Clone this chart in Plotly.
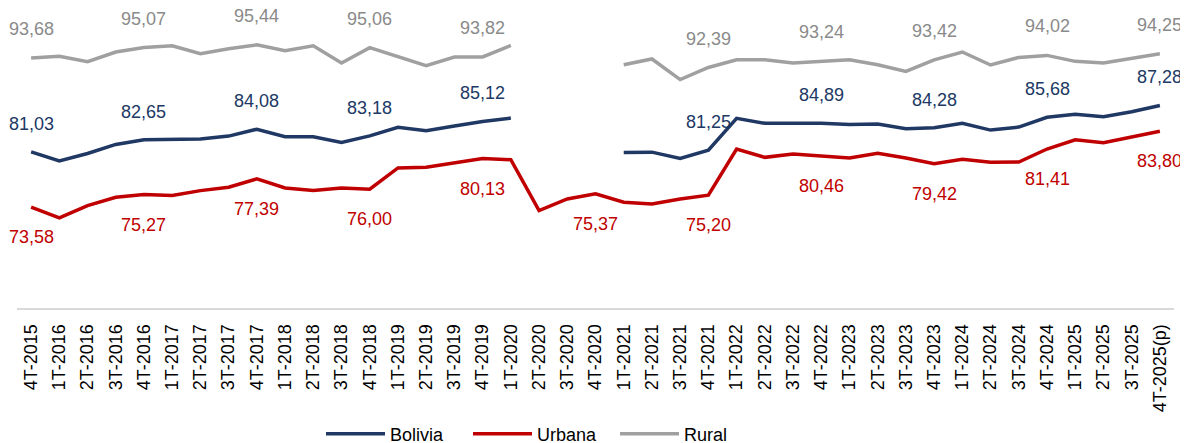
import plotly.graph_objects as go

categories = ["4T-2015","1T-2016","2T-2016","3T-2016","4T-2016","1T-2017","2T-2017","3T-2017","4T-2017",
              "1T-2018","2T-2018","3T-2018","4T-2018","1T-2019","2T-2019","3T-2019","4T-2019",
              "1T-2020","2T-2020","3T-2020","4T-2020","1T-2021","2T-2021","3T-2021","4T-2021",
              "1T-2022","2T-2022","3T-2022","4T-2022","1T-2023","2T-2023","3T-2023","4T-2023",
              "1T-2024","2T-2024","3T-2024","4T-2024","1T-2025","2T-2025","3T-2025","4T-2025(p)"]

bolivia = [81.03, 79.81, 80.81, 82.03, 82.65, 82.71, 82.75, 83.15, 84.08, 83.06, 83.06, 82.30, 83.18,
           84.33, 83.87, 84.50, 85.12, 85.58, None, None, None, 80.95, 80.99, 80.14, 81.25,
           85.54, 84.87, 84.87, 84.89, 84.73, 84.77, 84.14, 84.28, 84.87, 83.96, 84.37, 85.68,
           86.08, 85.76, 86.43, 87.28]

urbana = [73.58, 72.14, 73.79, 74.92, 75.27, 75.14, 75.81, 76.26, 77.39, 76.17, 75.81, 76.17, 76.00,
          78.86, 78.95, 79.49, 80.13, 79.97, 73.12, 74.69, 75.37, 74.25, 74.02, 74.69, 75.20,
          81.41, 80.29, 80.73, 80.46, 80.20, 80.83, 80.20, 79.42, 80.02, 79.62, 79.66, 81.41,
          82.65, 82.25, 83.02, 83.80]

rural = [93.68, 93.89, 93.18, 94.48, 95.07, 95.32, 94.25, 94.92, 95.44, 94.65, 95.32, 93.00, 95.06,
         93.85, 92.64, 93.80, 93.82, 95.36, None, None, None, 92.77, 93.54, 90.76, 92.39,
         93.44, 93.44, 93.00, 93.24, 93.44, 92.77, 91.87, 93.42, 94.48, 92.73, 93.75, 94.02,
         93.22, 93.00, 93.67, 94.25]

label_idx = list(range(0, len(categories), 4))

series = [
    ("Bolivia", bolivia, "#203864", "#203864", 28),
    ("Urbana", urbana, "#C00000", "#C00000", -30),
    ("Rural", rural, "#A0A0A0", "#8A8A8A", 29),
]

FONT = "Liberation Sans, Arial, sans-serif"

fig = go.Figure()
annotations = []
for name, vals, color, tcolor, shift in series:
    fig.add_trace(go.Scatter(x=categories, y=vals, name=name, mode="lines",
                             line=dict(color=color, width=3.5), connectgaps=False))
    for i in label_idx:
        v = vals[i]
        if v is None:
            continue
        annotations.append(dict(x=categories[i], y=v, text=f"{v:.2f}".replace(".", ","),
                                showarrow=False, yshift=shift, xanchor="center", yanchor="middle",
                                font=dict(family=FONT, size=18, color=tcolor)))

W, H = 1180, 443
fig.update_layout(
    width=W, height=H,
    margin=dict(l=9, r=14, t=3, b=142.5, autoexpand=False),
    paper_bgcolor="white", plot_bgcolor="white",
    font=dict(family=FONT, size=18, color="#000000"),
    annotations=annotations,
    showlegend=True,
    legend=dict(orientation="h", xref="container", yref="container",
                x=313 / W, y=17 / H, xanchor="left", yanchor="middle",
                font=dict(family=FONT, size=18, color="#000000"),
                itemwidth=59, entrywidth=73, bgcolor="rgba(0,0,0,0)"),
    xaxis=dict(type="category", showgrid=False, showline=True, linecolor="#D9D9D9", linewidth=2,
               ticks="", tickangle=-90, tickfont=dict(family=FONT, size=18, color="#000000"),
               ticklabelstandoff=7, automargin=False, range=[-0.5, len(categories) - 0.5]),
    yaxis=dict(range=[60, 100], showgrid=False, showline=False, showticklabels=False,
               zeroline=False, ticks="", automargin=False),
)

fig.write_html("out.html")
